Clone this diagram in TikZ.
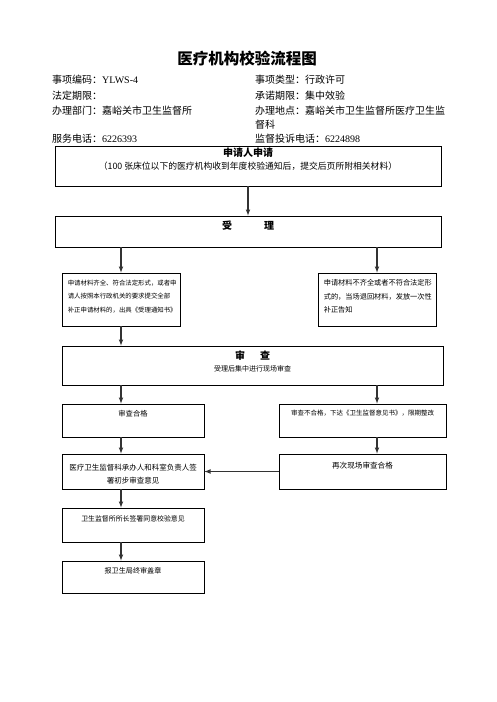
\documentclass[tikz,border=0pt]{standalone}
\usepackage{fontspec}
\setmainfont{Noto Sans CJK SC}
\newfontfamily\lat{Liberation Serif}
\usetikzlibrary{arrows,positioning}

\newcommand{\fsz}[2]{\fontsize{#1}{#2}\selectfont}

\begin{document}
\begin{tikzpicture}[x=1pt, y=-1pt,
    flowbox/.style={draw, line width=0.8pt, inner sep=0pt},
    boxtext/.style={inner sep=0pt, font=\fsz{7}{9}},
    heading/.style={inner sep=0pt, font=\bfseries\fsz{10}{12}},
    info/.style={anchor=base west, inner sep=0pt, font=\fsz{10}{12}},
    flow/.style={->, >=latex, line width=1.1pt, draw=black!80}]
  \useasboundingbox (0,0) rectangle (496,702);

  % title and header
  \node[inner sep=0pt, anchor=base, font=\bfseries\fsz{15.5}{18}] (title) at (247,64) {医疗机构校验流程图};
  \node[info] (code)   at (52,83)  {事项编码：{\lat YLWS-4}};
  \node[info] (kind)   at (255,83) {事项类型：行政许可};
  \node[info] (limit)  at (52,99)  {法定期限：};
  \node[info] (prom)   at (255,99) {承诺期限：集中效验};
  \node[info] (dept)   at (52,114) {办理部门：嘉峪关市卫生监督所};
  \node[info] (place)  at (255,114) {办理地点：嘉峪关市卫生监督所医疗卫生监};
  \node[info] (place2) at (255,128) {督科};
  \node[info] (tel)    at (52,142) {服务电话：{\lat 6226393}};
  \node[info] (comp)   at (255,142) {监督投诉电话：{\lat 6224898}};

  % boxes
  \node[flowbox, minimum width=386pt, minimum height=40pt] (B1) at (248,166) {};
  \node[flowbox, minimum width=386pt, minimum height=31pt] (B2) at (248,231.5) {};
  \node[flowbox, minimum width=118pt, minimum height=53pt] (B3L) at (121,299.5) {};
  \node[flowbox, minimum width=118pt, minimum height=53pt] (B3R) at (377,299.5) {};
  \node[flowbox, minimum width=381pt, minimum height=39pt] (B4) at (252.5,365.5) {};
  \node[flowbox, minimum width=142pt, minimum height=33pt] (B5L) at (133,420.5) {};
  \node[flowbox, minimum width=167pt, minimum height=33pt] (B5R) at (362.5,420.5) {};
  \node[flowbox, minimum width=142pt, minimum height=35pt] (B6L) at (133,471.5) {};
  \node[flowbox, minimum width=167pt, minimum height=35pt] (B6R) at (362.5,471.5) {};
  \node[flowbox, minimum width=142pt, minimum height=34pt] (B7) at (133,525) {};
  \node[flowbox, minimum width=142pt, minimum height=32pt] (B8) at (133,577) {};

  % box texts
  \node[heading, below=2pt of B1.north] (t1) {申请人申请};
  \node[boxtext, font=\fsz{8.8}{10}, below=4.5pt of t1] (t1sub) {（100 张床位以下的医疗机构收到年度校验通知后，提交后页所附相关材料）};
  \node[heading, below=5pt of B2.north] (t2) {受\hspace{32pt}理};
  \node[boxtext, font=\fsz{6.4}{13.5}, align=left, below right=6.75pt and 6pt of B3L.north west] (t3L)
    {申请材料齐全、符合法定形式，或者申\\请人按照本行政机关的要求提交全部\\补正申请材料的，出具《受理通知书》};
  \node[boxtext, font=\fsz{7.2}{13.5}, align=left, below right=6.75pt and 6pt of B3R.north west] (t3R)
    {申请材料不齐全或者不符合法定形\\式的，当场退回材料，发放一次性\\补正告知};
  \node[heading, below=5pt of B4.north] (t4) {审\hspace{15pt}查};
  \node[boxtext, below=4.5pt of t4] (t4sub) {受理后集中进行现场审查};
  \node[boxtext, font=\fsz{7.3}{9}, below=6.3pt of B5L.north] (t5L) {审查合格};
  \node[boxtext, font=\fsz{6.5}{9}, below=5.75pt of B5R.north] (t5R) {审查不合格，下达《卫生监督意见书》，限期整改};
  \node[boxtext, font=\fsz{7.5}{13}, align=center, below=10.25pt of B6L.north] (t6L)
    {医疗卫生监督科承办人和科室负责人签\\署初步审查意见};
  \node[boxtext, font=\fsz{7.6}{9}, below=8.2pt of B6R.north] (t6R) {再次现场审查合格};
  \node[boxtext, font=\fsz{6.9}{9}, below=7.5pt of B7.north] (t7) {卫生监督所所长签署同意校验意见};
  \node[boxtext, font=\fsz{7.1}{9}, below=6.5pt of B8.north] (t8) {报卫生局终审盖章};

  % connectors
  \draw[flow] (B1) -- (B2);
  \draw[flow] (B2.south -| B3L) -- (B3L);
  \draw[flow] (B2.south -| B3R) -- (B3R);
  \draw[flow] (B3L) -- (B3L |- B4.north);
  \draw[flow] (B4.south -| B3L) -- (B5L.north -| B3L);
  \draw[flow] (B4.south -| B3R) -- (B5R.north -| B3R);
  \draw[flow] (B5L.south -| B3L) -- (B6L.north -| B3L);
  \draw[flow] (B5R.south -| B3R) -- (B6R.north -| B3R);
  \draw[flow] (B6R.west) -- (B6L.east);
  \draw[flow] (B6L.south -| B3L) -- (B7.north -| B3L);
  \draw[flow] (B7.south -| B3L) -- (B8.north -| B3L);
\end{tikzpicture}
\end{document}
